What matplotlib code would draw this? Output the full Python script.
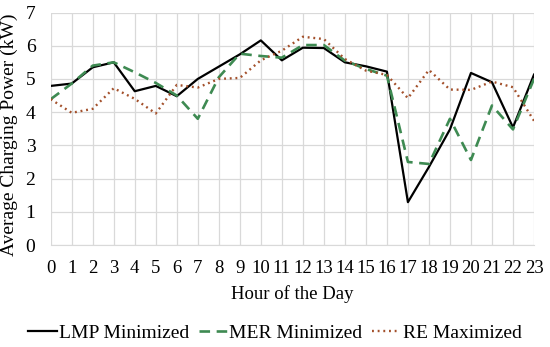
import matplotlib.pyplot as plt
import numpy as np

hours = list(range(24))
hour_labels = [str(h) for h in hours]

lmp_min = [4.79, 4.86, 5.35, 5.5, 4.63, 4.79, 4.48, 5.0, 5.37, 5.74, 6.16, 5.56,
           5.94, 5.93, 5.5, 5.38, 5.22, 1.29, 2.35, 3.48, 5.18, 4.9, 3.54, 5.13]
mer_min = [4.39, 4.86, 5.4, 5.5, 5.2, 4.88, 4.5, 3.8, 5.05, 5.76, 5.69, 5.64,
           6.02, 6.02, 5.55, 5.3, 5.1, 2.5, 2.44, 3.8, 2.56, 4.2, 3.48, 5.0]
re_max = [4.39, 3.98, 4.1, 4.72, 4.4, 3.96, 4.82, 4.74, 5.0, 5.03, 5.56, 5.85,
          6.27, 6.2, 5.6, 5.25, 5.12, 4.42, 5.27, 4.68, 4.67, 4.92, 4.75, 3.74]

plt.rcParams['font.family'] = ['Liberation Serif', 'DejaVu Serif']
plt.rcParams['font.size'] = 13.5

fig = plt.figure(figsize=(5.5, 3.47), dpi=100)
ax = fig.add_axes([50.7 / 550, 1 - 245 / 347, (534 - 50.7) / 550, (245 - 12.5) / 347])

x = np.arange(len(hours))
ax.plot(x, lmp_min, color='black', lw=1.6, label='LMP Minimized')
ax.plot(x, mer_min, color='#3e8a52', lw=1.9, ls=(0, (4, 2.5)), label='MER Minimized')
ax.plot(x, re_max, color='#a3502b', lw=1.7, ls=(0, (0.8, 1.6)), label='RE Maximized')

ax.set_xlim(0, 23)
ax.set_ylim(0, 7)
ax.set_xticks(x)
ax.set_xticklabels(hour_labels)
ax.set_yticks(range(8))
ax.grid(True, color='#d9d9d9', lw=0.9)
ax.set_axisbelow(True)
for s in ['top', 'right', 'left']:
    ax.spines[s].set_visible(False)
ax.spines['bottom'].set_color('#d9d9d9')
ax.tick_params(length=0)
ax.tick_params(axis='x', pad=11, labelsize=13.5)
ax.tick_params(axis='y', pad=11, labelsize=14)

ax.set_xlabel('Hour of the Day', fontsize=13.5, labelpad=6)
ax.set_ylabel('Average Charging Power (kW)', fontsize=14)
ax.yaxis.set_label_coords(-0.068, 0.473)

fig.legend(loc='center', bbox_to_anchor=(0.5, 1 - 333 / 347), ncol=3, frameon=False,
           fontsize=14, handlelength=1.45, handletextpad=0.12, columnspacing=0.5)

fig.savefig('out.png', dpi=100)
